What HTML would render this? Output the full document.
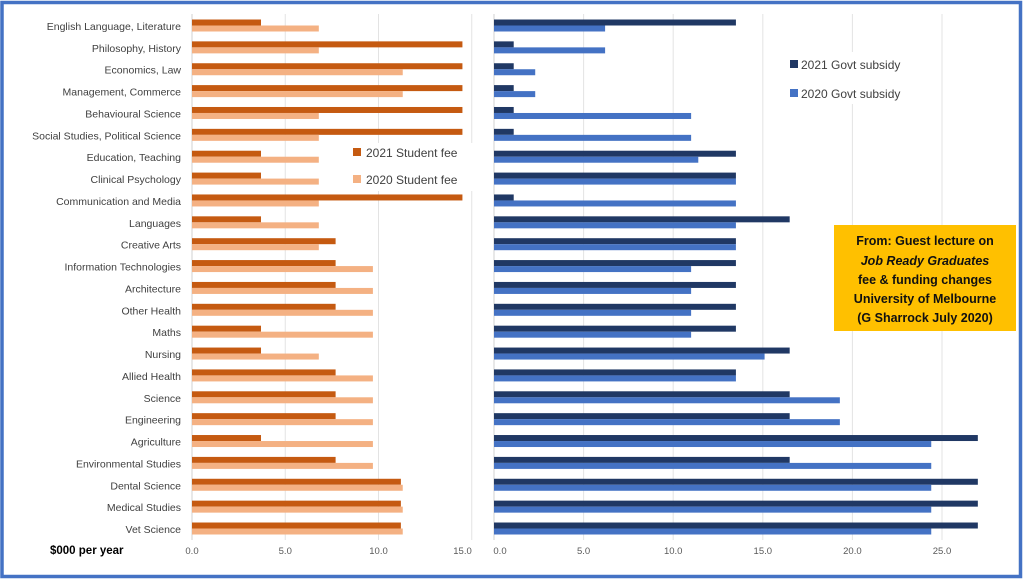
<!DOCTYPE html>
<html><head><meta charset="utf-8"><style>
html,body{margin:0;padding:0;background:#fff}
svg{display:block}
text{font-family:"Liberation Sans",sans-serif}
</style></head><body>
<svg id="s" width="1023" height="579" xmlns="http://www.w3.org/2000/svg">
<rect x="0" y="0" width="1023" height="579" fill="#fff"/>
<rect x="2" y="2.5" width="1018.5" height="574" fill="none" stroke="#4472C4" stroke-width="3.5"/>
<g id="g"></g>
<rect x="834" y="225" width="182" height="106" fill="#FFC000"/>
<g font-size="12.5" font-weight="bold" fill="#111" text-anchor="middle">
<text x="925" y="245">From: Guest lecture on</text>
<text x="925" y="265" font-style="italic">Job Ready Graduates</text>
<text x="925" y="284">fee &amp; funding changes</text>
<text x="925" y="303">University of Melbourne</text>
<text x="925" y="322">(G Sharrock July 2020)</text>
</g>
<text x="50" y="554" font-size="11.5" font-weight="bold" fill="#000">$000 per year</text>
</svg>
<script>
var labels=["English Language, Literature","Philosophy, History","Economics, Law","Management, Commerce","Behavioural Science","Social Studies, Political Science","Education, Teaching","Clinical Psychology","Communication and Media","Languages","Creative Arts","Information Technologies","Architecture","Other Health","Maths","Nursing","Allied Health","Science","Engineering","Agriculture","Environmental Studies","Dental Science","Medical Studies","Vet Science"];
var f21=[3.7,14.5,14.5,14.5,14.5,14.5,3.7,3.7,14.5,3.7,7.7,7.7,7.7,7.7,3.7,3.7,7.7,7.7,7.7,3.7,7.7,11.2,11.2,11.2];
var f20=[6.8,6.8,11.3,11.3,6.8,6.8,6.8,6.8,6.8,6.8,6.8,9.7,9.7,9.7,9.7,6.8,9.7,9.7,9.7,9.7,9.7,11.3,11.3,11.3];
var s21=[13.5,1.1,1.1,1.1,1.1,1.1,13.5,13.5,1.1,16.5,13.5,13.5,13.5,13.5,13.5,16.5,13.5,16.5,16.5,27,16.5,27,27,27];
var s20=[6.2,6.2,2.3,2.3,11,11,11.4,13.5,13.5,13.5,13.5,11,11,11,11,15.1,13.5,19.3,19.3,24.4,24.4,24.4,24.4,24.4];
var h='';
var L0=192,LS=18.65,R0=494,RS=17.92;
// gridlines
[5,10,15].forEach(function(v){h+='<line x1="'+(L0+v*LS)+'" y1="14" x2="'+(L0+v*LS)+'" y2="540" stroke="#e3e3e3" stroke-width="1"/>';});
[5,10,15,20,25].forEach(function(v){h+='<line x1="'+(R0+v*RS)+'" y1="14" x2="'+(R0+v*RS)+'" y2="540" stroke="#e3e3e3" stroke-width="1"/>';});
h+='<line x1="'+L0+'" y1="14" x2="'+L0+'" y2="540" stroke="#d0d0d0"/>';
h+='<line x1="'+R0+'" y1="14" x2="'+R0+'" y2="540" stroke="#d0d0d0"/>';
for(var i=0;i<24;i++){
 var c=26+i*21.87;
 h+='<text x="181" y="'+(c+4)+'" font-size="10.5" fill="#404040" text-anchor="end">'+labels[i]+'</text>';
 h+='<rect x="'+L0+'" y="'+(c-6.5)+'" width="'+(f21[i]*LS)+'" height="6" fill="#C55A11"/>';
 h+='<rect x="'+L0+'" y="'+(c-0.5)+'" width="'+(f20[i]*LS)+'" height="6" fill="#F4B183"/>';
 h+='<rect x="'+R0+'" y="'+(c-6.5)+'" width="'+(s21[i]*RS)+'" height="6" fill="#203864"/>';
 h+='<rect x="'+R0+'" y="'+(c-0.5)+'" width="'+(s20[i]*RS)+'" height="6" fill="#4472C4"/>';
}
['0.0','5.0','10.0','15.0'].forEach(function(t,k){h+='<text x="'+(L0+k*5*LS)+'" y="554" font-size="9.5" fill="#595959" text-anchor="'+(k==3?'end':'middle')+'">'+t+'</text>';});
['0.0','5.0','10.0','15.0','20.0','25.0'].forEach(function(t,k){h+='<text x="'+(R0+k*5*RS+(k==0?6:0))+'" y="554" font-size="9.5" fill="#595959" text-anchor="middle">'+t+'</text>';});
// legends
h+='<rect x="350" y="143" width="125" height="48" fill="#fff"/>';
h+='<rect x="353" y="148" width="8" height="8" fill="#C55A11"/><text x="366" y="157" font-size="12" fill="#404040">2021 Student fee</text>';
h+='<rect x="353" y="175" width="8" height="8" fill="#F4B183"/><text x="366" y="184" font-size="12" fill="#404040">2020 Student fee</text>';
h+='<rect x="785" y="52" width="130" height="52" fill="#fff"/>';
h+='<rect x="790" y="60" width="8" height="8" fill="#203864"/><text x="801" y="69" font-size="12" fill="#404040">2021 Govt subsidy</text>';
h+='<rect x="790" y="89" width="8" height="8" fill="#4472C4"/><text x="801" y="98" font-size="12" fill="#404040">2020 Govt subsidy</text>';
document.getElementById('g').innerHTML=h;
</script>
</body></html>
